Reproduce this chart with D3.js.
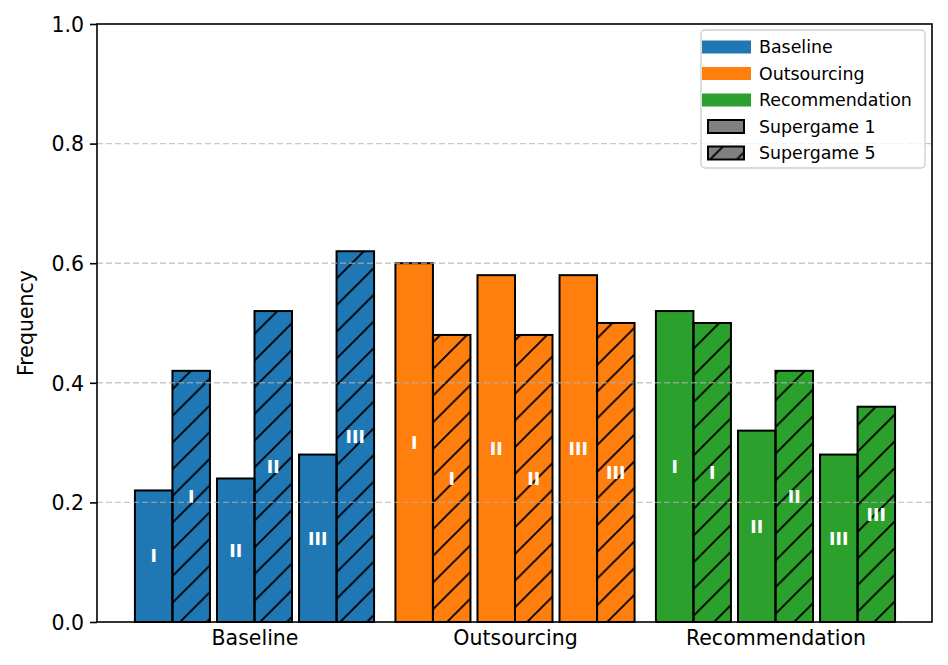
<!DOCTYPE html>
<html>
<head>
<meta charset="utf-8">
<script src="https://cdn.jsdelivr.net/npm/d3@7/dist/d3.min.js"></script>
<style>
  html, body { margin: 0; padding: 0; background: #fff; }
  svg { display: block; font-family: "DejaVu Sans", sans-serif; }
</style>
</head>
<body>
<svg id="chart" width="948" height="665"></svg>
<script>
// ---- data ----
const categories = ["Baseline", "Outsourcing", "Recommendation"];
const phases = ["I", "II", "III"];
const supergames = ["Supergame 1", "Supergame 5"];
const colors = ["#1f77b4", "#ff7f0e", "#2ca02c"];
// rows: category, columns: phase
const supergame1Values = [
  [0.22, 0.24, 0.28],
  [0.60, 0.58, 0.58],
  [0.52, 0.32, 0.28]
];
const supergame5Values = [
  [0.42, 0.52, 0.62],
  [0.48, 0.48, 0.50],
  [0.50, 0.42, 0.36]
];
const yTicks = [0.0, 0.2, 0.4, 0.6, 0.8, 1.0];

// ---- layout ----
const L = 97, R = 932, T = 24, B = 622;
const phaseOffset = 0.315, barW = 0.144;

const svg = d3.select("#chart");
const x = d3.scaleLinear().domain([-0.6046, 2.6008]).range([L, R]);
const y = d3.scaleLinear().domain([0, 1]).range([B, T]);

const defs = svg.append("defs");
const P = 26.7;
const pat = defs.append("pattern")
  .attr("id", "hatch")
  .attr("patternUnits", "userSpaceOnUse")
  .attr("width", P).attr("height", P)
  .attr("patternTransform", "translate(1,0)");
pat.append("path")
  .attr("d", `M-3,3 L3,-3 M0,${P} L${P},0 M${P-3},${P+3} L${P+3},${P-3}`)
  .attr("stroke", "#000").attr("stroke-width", 1.9).attr("fill", "none");

const lpat = defs.append("pattern")
  .attr("id", "hatchLegend")
  .attr("patternUnits", "userSpaceOnUse")
  .attr("width", P).attr("height", P)
  .attr("patternTransform", "translate(5,0)");
lpat.append("path")
  .attr("d", `M-3,3 L3,-3 M0,${P} L${P},0 M${P-3},${P+3} L${P+3},${P-3}`)
  .attr("stroke", "#000").attr("stroke-width", 1.9).attr("fill", "none");

// ---- bars ----
const bars = [];
categories.forEach((c, ci) => {
  phases.forEach((p, pi) => {
    const center = ci + (pi - 1) * phaseOffset;
    bars.push({ ci, pi, sg: 0, x0: center - barW, v: supergame1Values[ci][pi], label: p });
    bars.push({ ci, pi, sg: 1, x0: center, v: supergame5Values[ci][pi], label: p });
  });
});

const gBars = svg.append("g");
gBars.selectAll("rect.fill").data(bars).join("rect")
  .attr("class", "fill")
  .attr("x", d => x(d.x0))
  .attr("y", d => y(d.v))
  .attr("width", d => x(d.x0 + barW) - x(d.x0))
  .attr("height", d => y(0) - y(d.v))
  .attr("fill", d => colors[d.ci]);
gBars.selectAll("rect.hatch").data(bars.filter(d => d.sg === 1)).join("rect")
  .attr("class", "hatch")
  .attr("x", d => x(d.x0))
  .attr("y", d => y(d.v))
  .attr("width", d => x(d.x0 + barW) - x(d.x0))
  .attr("height", d => y(0) - y(d.v))
  .attr("fill", "url(#hatch)");
gBars.selectAll("rect.edge").data(bars).join("rect")
  .attr("class", "edge")
  .attr("x", d => x(d.x0))
  .attr("y", d => y(d.v))
  .attr("width", d => x(d.x0 + barW) - x(d.x0))
  .attr("height", d => y(0) - y(d.v))
  .attr("fill", "none")
  .attr("stroke", "#000")
  .attr("stroke-width", 2);

// bar labels
gBars.selectAll("text").data(bars).join("text")
  .attr("x", d => x(d.x0 + barW / 2))
  .attr("y", d => y(d.v / 2))
  .attr("dy", "0.36em")
  .attr("text-anchor", "middle")
  .attr("fill", "#fff")
  .attr("font-weight", "bold")
  .attr("font-size", "17.4px")
  .text(d => d.label);

// ---- grid (drawn above bars) ----
svg.append("g").selectAll("line").data(yTicks.filter(t => t > 0 && t < 1)).join("line")
  .attr("x1", L).attr("x2", R)
  .attr("y1", d => y(d)).attr("y2", d => y(d))
  .attr("stroke", "#b0b0b0")
  .attr("stroke-opacity", 0.7)
  .attr("stroke-width", 1.4)
  .attr("stroke-dasharray", "6,3");

// ---- axes ----
const yAxis = d3.axisLeft(y).tickValues(yTicks).tickFormat(d3.format(".1f")).tickSize(7).tickPadding(6);
const gy = svg.append("g").attr("transform", `translate(${L},0)`).call(yAxis);
gy.select(".domain").remove();
gy.selectAll(".tick line").attr("stroke", "#000").attr("stroke-width", 1.6);
gy.selectAll(".tick text").attr("font-size", "20.5px").attr("font-family", "DejaVu Sans").attr("fill", "#000").attr("dy", "0.36em");

const xAxis = d3.axisBottom(x).tickValues(categories.map((c, i) => i)).tickFormat((d, i) => categories[i]).tickSize(0).tickPadding(8);
const gx = svg.append("g").attr("transform", `translate(0,${B})`).call(xAxis);
gx.select(".domain").remove();
gx.selectAll(".tick text").attr("font-size", "20.5px").attr("font-family", "DejaVu Sans").attr("fill", "#000").attr("dy", "0.71em");

// frame
svg.append("rect").attr("x", L).attr("y", T).attr("width", R - L).attr("height", B - T)
  .attr("fill", "none").attr("stroke", "#000").attr("stroke-width", 1.6);

// y label
svg.append("text")
  .attr("transform", `translate(33,${(T + B) / 2}) rotate(-90)`)
  .attr("text-anchor", "middle")
  .attr("font-size", "20.5px")
  .attr("fill", "#000")
  .text("Frequency");

// ---- legend ----
const lg = svg.append("g").attr("transform", "translate(701,30)");
lg.append("rect").attr("x", 0).attr("y", 0).attr("width", 224).attr("height", 138)
  .attr("rx", 4).attr("fill", "#fff").attr("fill-opacity", 0.8)
  .attr("stroke", "#d0d0d0").attr("stroke-width", 1.4);
const legendItems = categories.map((c, i) => ({ label: c, type: "color", color: colors[i] }))
  .concat(supergames.map((s, i) => ({ label: s, type: "sg", hatch: i === 1 })));
const rowH = 26.5;
legendItems.forEach((it, i) => {
  const cy = 17 + i * rowH;
  if (it.type === "color") {
    lg.append("rect").attr("x", 1).attr("y", cy - 6.5).attr("width", 49).attr("height", 13).attr("fill", it.color);
  } else {
    lg.append("rect").attr("x", 7).attr("y", cy - 6.5).attr("width", 36).attr("height", 13).attr("fill", "#808080");
    if (it.hatch) {
      lg.append("rect").attr("x", 7).attr("y", cy - 6.5).attr("width", 36).attr("height", 13).attr("fill", "url(#hatchLegend)");
    }
    lg.append("rect").attr("x", 7).attr("y", cy - 6.5).attr("width", 36).attr("height", 13)
      .attr("fill", "none").attr("stroke", "#000").attr("stroke-width", 2);
  }
  lg.append("text").attr("x", 58).attr("y", cy).attr("dy", "0.36em")
    .attr("font-size", "17.4px").attr("fill", "#000").text(it.label);
});
</script>
</body>
</html>
